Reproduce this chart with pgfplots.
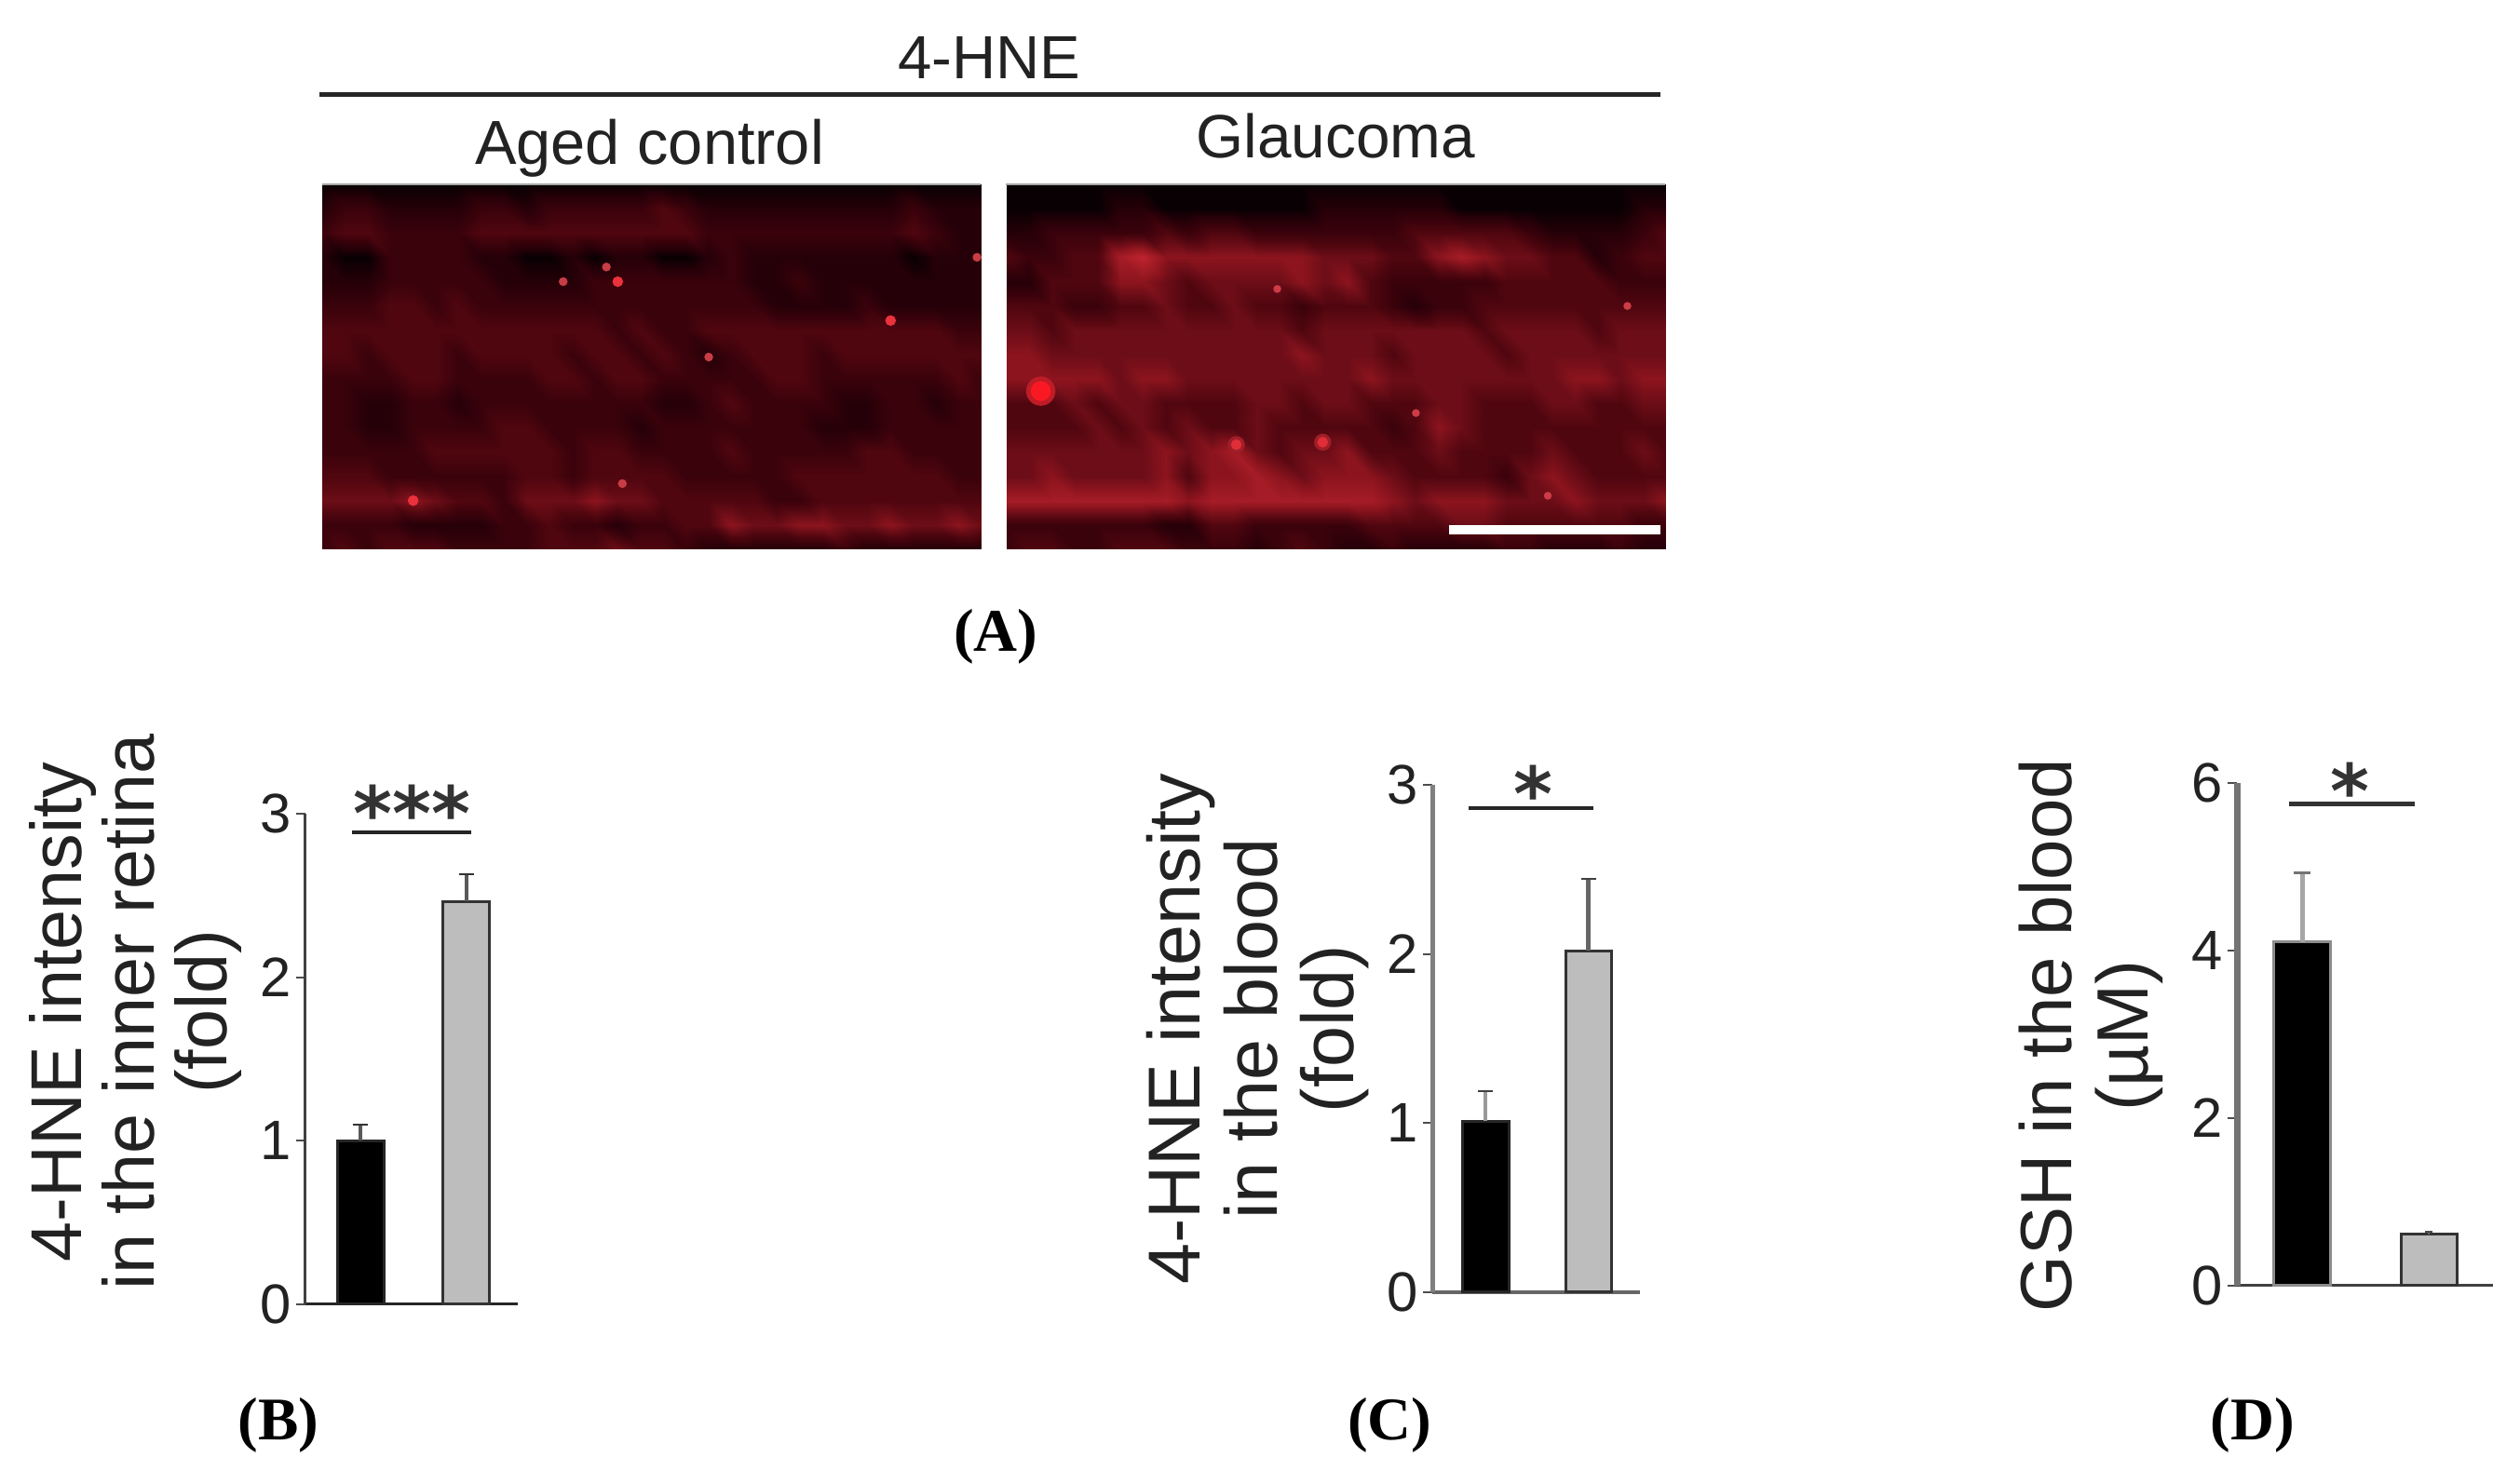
\documentclass[border=0pt]{standalone}
\usepackage{fontspec}
\setmainfont{Liberation Sans}
\newfontfamily\serifb{Liberation Serif}
\newfontfamily\starf{DejaVu Sans}
\usepackage{pgfplots}
\pgfplotsset{compat=1.18}
\definecolor{txt}{HTML}{222222}
\definecolor{barg}{HTML}{BDBDBD}
\definecolor{spa}{RGB}{235,50,60}
\definecolor{spb}{RGB}{200,60,70}
\definecolor{spc}{RGB}{250,25,35}
\definecolor{spd}{RGB}{225,45,55}
\definecolor{spe}{RGB}{205,60,70}
\definecolor{hala}{RGB}{190,28,38}
\definecolor{halb}{RGB}{160,30,40}
\pgfplotsset{
  img/.style={
    scale only axis, width=7.08cm, height=3.92cm,
    xmin=0, xmax=29, ymin=0, ymax=15, view={0}{90},
    axis line style={draw=none}, xtick=\empty, ytick=\empty,
    colormap={hne}{rgb255(0cm)=(8,0,3); rgb255(1cm)=(38,0,8); rgb255(2cm)=(58,2,11); rgb255(3cm)=(80,6,15); rgb255(4cm)=(108,13,23); rgb255(5cm)=(140,20,30); rgb255(6cm)=(165,28,38); rgb255(7cm)=(190,35,45)},
    point meta min=0, point meta max=7,
    clip=true
  },
  cell/.style={surf, shader=interp, mesh/cols=30, mesh/ordering=x varies, point meta=\thisrowno{0}},
  spot/.style={only marks, mark=*, mark options={draw=#1, fill=#1}},
  pan/.style={
    scale only axis, axis lines=left, axis line style={-},
    xtick=\empty, ymin=0, tick align=outside, major tick length=0.1cm,
    tick style={draw=black!70, line width=0.02cm},
    yticklabel style={font=\fontsize{17pt}{20pt}\selectfont, text=txt, /pgf/number format/assume math mode=true, inner sep=0.05cm},
    clip=false
  },
  blackbar/.style={ybar, bar shift=0pt, fill=black, draw=black!85, line width=0.03cm},
  greybar/.style={ybar, bar shift=0pt, fill=barg, draw=black!80, line width=0.03cm},
}
\begin{document}
\begin{tikzpicture}
\path[use as bounding box] (0,0) rectangle (27.06cm,15.80cm);

% Panel A left
\begin{axis}[img, at={(3.46cm,9.90cm)}, anchor=south west]
\addplot3[cell] table[header=false, row sep=\\, x expr={mod(\coordindex,30)}, y expr={15-floor((\coordindex+0.5)/30)}, z expr=0] {
0\\0\\0\\0\\0\\0\\0\\0\\0\\0\\0\\0\\0\\0\\0\\0\\0\\0\\0\\0\\0\\0\\0\\0\\0\\0\\0\\0\\0\\0\\
1\\2\\2\\1\\1\\1\\1\\2\\2\\1\\2\\2\\2\\2\\2\\3\\2\\1\\1\\1\\1\\1\\1\\1\\1\\1\\2\\1\\1\\1\\
2\\3\\3\\2\\2\\2\\2\\3\\3\\3\\3\\3\\3\\3\\3\\3\\3\\2\\2\\2\\2\\2\\2\\2\\2\\2\\3\\2\\1\\1\\
1\\0\\0\\2\\2\\2\\2\\1\\1\\0\\0\\1\\0\\1\\1\\0\\0\\1\\2\\1\\1\\1\\1\\1\\1\\1\\0\\1\\1\\1\\
1\\1\\1\\2\\2\\2\\2\\2\\1\\1\\1\\1\\2\\2\\2\\2\\2\\2\\2\\1\\1\\2\\1\\1\\1\\1\\1\\1\\1\\1\\
2\\2\\2\\3\\3\\2\\3\\2\\2\\2\\2\\2\\2\\2\\2\\2\\2\\2\\2\\2\\1\\1\\1\\1\\2\\1\\1\\1\\1\\1\\
3\\3\\3\\3\\3\\3\\3\\3\\3\\3\\3\\3\\3\\2\\3\\2\\2\\3\\3\\3\\3\\3\\3\\3\\3\\3\\3\\3\\2\\2\\
3\\3\\2\\3\\3\\3\\2\\3\\3\\3\\3\\2\\3\\3\\2\\3\\2\\1\\2\\3\\3\\3\\2\\3\\3\\3\\3\\3\\3\\3\\
2\\2\\2\\2\\3\\3\\2\\2\\2\\2\\3\\3\\2\\3\\3\\2\\2\\2\\2\\2\\3\\3\\2\\2\\2\\2\\2\\2\\3\\2\\
2\\2\\1\\1\\2\\2\\1\\2\\2\\2\\2\\2\\2\\2\\2\\1\\1\\2\\3\\2\\2\\2\\2\\1\\1\\2\\2\\1\\2\\2\\
2\\2\\1\\1\\2\\2\\2\\2\\3\\3\\2\\2\\2\\2\\1\\2\\2\\2\\2\\2\\2\\2\\1\\1\\1\\2\\2\\2\\2\\2\\
2\\2\\2\\2\\2\\3\\3\\3\\3\\3\\3\\2\\3\\3\\2\\2\\2\\2\\3\\2\\2\\2\\2\\2\\3\\3\\2\\2\\2\\2\\
3\\3\\3\\2\\2\\2\\2\\2\\2\\3\\3\\2\\3\\3\\3\\3\\2\\2\\2\\2\\2\\3\\3\\3\\3\\3\\3\\3\\2\\2\\
4\\4\\4\\4\\5\\4\\3\\3\\2\\4\\4\\4\\5\\4\\4\\3\\3\\3\\3\\3\\2\\2\\3\\3\\3\\3\\3\\3\\3\\3\\
2\\2\\2\\2\\1\\1\\1\\1\\2\\2\\3\\2\\2\\1\\2\\2\\3\\3\\5\\4\\4\\5\\5\\4\\4\\5\\4\\4\\5\\4\\
2\\3\\2\\3\\3\\3\\2\\2\\2\\2\\3\\3\\3\\4\\3\\3\\2\\1\\1\\1\\1\\1\\1\\2\\1\\1\\1\\1\\1\\1\\
};
\addplot3[spot=spa, mark size=0.05cm] coordinates {(13,11,0) (4,2,0) (25,9.4,0)};
\addplot3[spot=spb, mark size=0.04cm] coordinates {(10.6,11,0) (12.5,11.6,0) (28.8,12,0) (17,7.9,0) (13.2,2.7,0)};
\end{axis}

% Panel A right
\begin{axis}[img, at={(10.81cm,9.90cm)}, anchor=south west]
\addplot3[cell] table[header=false, row sep=\\, x expr={mod(\coordindex,30)}, y expr={15-floor((\coordindex+0.5)/30)}, z expr=0] {
0\\0\\0\\0\\0\\0\\0\\0\\0\\0\\0\\0\\0\\0\\0\\0\\0\\0\\0\\0\\0\\0\\0\\0\\0\\0\\0\\0\\0\\0\\
0\\0\\0\\0\\0\\1\\1\\0\\0\\0\\0\\0\\0\\0\\1\\1\\1\\1\\1\\1\\0\\0\\0\\0\\0\\0\\0\\0\\1\\1\\
1\\1\\2\\2\\2\\2\\2\\3\\2\\3\\3\\2\\2\\2\\2\\2\\2\\2\\3\\3\\3\\3\\3\\2\\1\\1\\1\\1\\2\\3\\
3\\2\\2\\3\\3\\6\\7\\5\\5\\5\\5\\5\\5\\5\\4\\4\\4\\3\\3\\5\\6\\5\\4\\4\\3\\3\\1\\2\\3\\3\\
1\\1\\3\\3\\3\\5\\5\\4\\3\\4\\4\\4\\4\\5\\4\\5\\3\\2\\2\\2\\2\\2\\3\\3\\3\\3\\3\\2\\2\\2\\
3\\3\\3\\2\\2\\3\\3\\4\\3\\3\\4\\3\\3\\2\\3\\3\\3\\2\\1\\2\\2\\3\\3\\3\\3\\3\\3\\3\\3\\3\\
4\\4\\3\\4\\4\\4\\4\\4\\4\\4\\4\\4\\4\\3\\4\\4\\4\\4\\4\\4\\4\\3\\4\\4\\4\\4\\3\\4\\4\\4\\
5\\5\\4\\4\\4\\4\\4\\4\\4\\4\\4\\4\\4\\5\\4\\4\\4\\3\\4\\4\\4\\4\\3\\4\\4\\4\\4\\4\\4\\4\\
5\\5\\5\\5\\5\\4\\5\\5\\4\\4\\4\\4\\4\\4\\4\\4\\5\\4\\4\\4\\4\\4\\4\\4\\4\\5\\5\\4\\5\\5\\
3\\3\\3\\4\\3\\4\\4\\3\\3\\3\\3\\4\\4\\3\\4\\4\\3\\3\\3\\4\\4\\3\\3\\3\\4\\4\\3\\3\\4\\4\\
3\\3\\3\\3\\4\\3\\4\\3\\4\\3\\3\\4\\3\\3\\3\\3\\3\\2\\3\\5\\4\\3\\3\\3\\3\\3\\3\\3\\3\\3\\
4\\4\\4\\4\\4\\4\\4\\5\\4\\5\\6\\4\\3\\4\\4\\5\\3\\3\\3\\4\\3\\3\\3\\3\\4\\3\\3\\3\\4\\3\\
4\\4\\5\\4\\4\\4\\4\\5\\3\\5\\5\\6\\5\\4\\5\\5\\5\\4\\3\\3\\3\\3\\2\\4\\5\\4\\3\\3\\3\\3\\
6\\6\\6\\6\\6\\6\\6\\6\\5\\6\\6\\6\\6\\6\\6\\6\\6\\5\\4\\5\\5\\5\\4\\4\\4\\5\\4\\4\\4\\5\\
2\\2\\2\\2\\2\\2\\2\\1\\1\\3\\3\\2\\2\\2\\2\\2\\3\\3\\3\\3\\4\\4\\3\\3\\3\\3\\3\\3\\2\\2\\
2\\3\\3\\2\\2\\3\\3\\3\\2\\2\\2\\1\\2\\3\\2\\1\\1\\2\\1\\1\\1\\1\\2\\2\\1\\1\\1\\2\\1\\1\\
};
\addplot3[spot=hala, mark size=0.15cm] coordinates {(1.5,6.5,0)};
\addplot3[spot=spc, mark size=0.10cm] coordinates {(1.5,6.5,0)};
\addplot3[spot=halb, mark size=0.085cm] coordinates {(10.1,4.3,0) (13.9,4.4,0)};
\addplot3[spot=spd, mark size=0.05cm] coordinates {(10.1,4.3,0) (13.9,4.4,0)};
\addplot3[spot=spe, mark size=0.035cm] coordinates {(11.9,10.7,0) (27.3,10,0) (18,5.6,0) (23.8,2.2,0)};
\end{axis}

% Panel B
\begin{axis}[pan, at={(3.28cm,1.79cm)}, anchor=south west, width=2.28cm, height=5.27cm,
  xmin=-0.52, xmax=1.489, ymax=3, ytick={0,1,2,3},
  x axis line style={draw=black!85, line width=0.03cm},
  y axis line style={draw=black!75, line width=0.03cm},
  ylabel={4-HNE intensity\\in the inner retina\\(fold)},
  ylabel style={at={(axis description cs:-0.80,0.596)}, anchor=center, align=center, text=txt,
    font=\fontsize{22pt}{22.2pt}\selectfont}]
\addplot[blackbar, bar width=0.5cm, error bars/.cd, y dir=plus, y explicit,
  error bar style={draw=black!65, line width=0.04cm}, error mark options={rotate=90, mark size=0.08cm, line width=0.02cm, draw=black!80}]
  coordinates {(0,1.0) +- (0,0.098)};
\addplot[greybar, bar width=0.5cm, error bars/.cd, y dir=plus, y explicit,
  error bar style={draw=black!65, line width=0.04cm}, error mark options={rotate=90, mark size=0.08cm, line width=0.02cm, draw=black!80}]
  coordinates {(1,2.463) +- (0,0.165)};
\end{axis}

% Panel C
\begin{axis}[pan, at={(15.38cm,1.92cm)}, anchor=south west, width=2.23cm, height=5.45cm,
  xmin=-0.516, xmax=1.502, ymax=3, ytick={0,1,2,3},
  x axis line style={draw=black!60, line width=0.04cm},
  y axis line style={draw=black!50, line width=0.05cm},
  ylabel={4-HNE intensity\\in the blood\\(fold)},
  ylabel style={at={(axis description cs:-0.84,0.519)}, anchor=center, align=center, text=txt,
    font=\fontsize{22.5pt}{23.4pt}\selectfont}]
\addplot[blackbar, bar width=0.5cm, error bars/.cd, y dir=plus, y explicit,
  error bar style={draw=black!40, line width=0.04cm}, error mark options={rotate=90, mark size=0.08cm, line width=0.02cm, draw=black!75}]
  coordinates {(0,1.01) +- (0,0.178)};
\addplot[greybar, bar width=0.49cm, error bars/.cd, y dir=plus, y explicit,
  error bar style={draw=black!60, line width=0.045cm}, error mark options={rotate=90, mark size=0.08cm, line width=0.02cm, draw=black!75}]
  coordinates {(1,2.02) +- (0,0.424)};
\end{axis}

% Panel D
\begin{axis}[pan, at={(24.02cm,1.99cm)}, anchor=south west, width=2.75cm, height=5.40cm,
  xmin=-0.518, xmax=1.504, ymax=6, ytick={0,2,4,6},
  x axis line style={draw=black!75, line width=0.03cm},
  y axis line style={draw=black!55, line width=0.07cm},
  ylabel={GSH in the blood\\(µM)},
  ylabel style={at={(axis description cs:-0.571,0.498)}, anchor=center, align=center, text=txt,
    font=\fontsize{22.2pt}{23.4pt}\selectfont}]
\addplot[ybar, bar shift=0pt, fill=black, draw=black!45, line width=0.03cm, bar width=0.61cm, error bars/.cd, y dir=plus, y explicit,
  error bar style={draw=black!35, line width=0.05cm}, error mark options={rotate=90, mark size=0.09cm, line width=0.025cm, draw=black!55}]
  coordinates {(0,4.10) +- (0,0.83)};
\addplot[greybar, bar width=0.60cm, error bars/.cd, y dir=plus, y explicit,
  error bar style={draw=black!60, line width=0.02cm}, error mark options={rotate=90, mark size=0.04cm, line width=0.015cm, draw=black!70}]
  coordinates {(1,0.613) +- (0,0.03)};
\end{axis}

\begin{scope}[x=0.01cm, y=-0.01cm, shift={(0,15.8cm)}]
  % header
  \draw[draw=black!85, line width=0.05cm] (343,102) -- (1784,102);
  \node[anchor=base, text=txt, font=\fontsize{18.6pt}{20pt}\selectfont] at (1063,85) {4-HNE};
  \node[anchor=base, text=txt, font=\fontsize{19pt}{20pt}\selectfont] at (698,177) {Aged control};
  \node[anchor=base, text=txt, font=\fontsize{18.7pt}{20pt}\selectfont] at (1435,170) {Glaucoma};
  % grey image edges and scale bar
  \draw[draw=black!35, line width=0.025cm] (346,198) -- (1054,198);
  \draw[draw=black!35, line width=0.025cm] (1081,198) -- (1789,198);
  \fill[white] (1557,564) rectangle (1784,574);
  % panel letters
  \node[anchor=base, font=\fontsize{18.5pt}{20pt}\selectfont\serifb\bfseries] at (1070,700) {(A)};
  \node[anchor=base, font=\fontsize{18.5pt}{20pt}\selectfont\serifb\bfseries] at (299,1547) {(B)};
  \node[anchor=base, font=\fontsize{18.5pt}{20pt}\selectfont\serifb\bfseries] at (1493,1547) {(C)};
  \node[anchor=base, font=\fontsize{18.5pt}{20pt}\selectfont\serifb\bfseries] at (2420,1547) {(D)};
  % significance
  \draw[draw=black!85, line width=0.04cm] (378,895) -- (506,895);
  \draw[draw=black!85, line width=0.04cm] (1578,869) -- (1712,869);
  \draw[draw=black!80, line width=0.045cm] (2459,864) -- (2594,864);
  \node[anchor=base, text=black!80, font=\fontsize{22.8pt}{24pt}\selectfont\starf\bfseries] at (443,903) {***};
  \node[anchor=base, text=black!80, font=\fontsize{22.8pt}{24pt}\selectfont\starf\bfseries] at (1647,882) {*};
  \node[anchor=base, text=black!80, font=\fontsize{22.8pt}{24pt}\selectfont\starf\bfseries] at (2525,879) {*};
\end{scope}
\end{tikzpicture}
\end{document}
